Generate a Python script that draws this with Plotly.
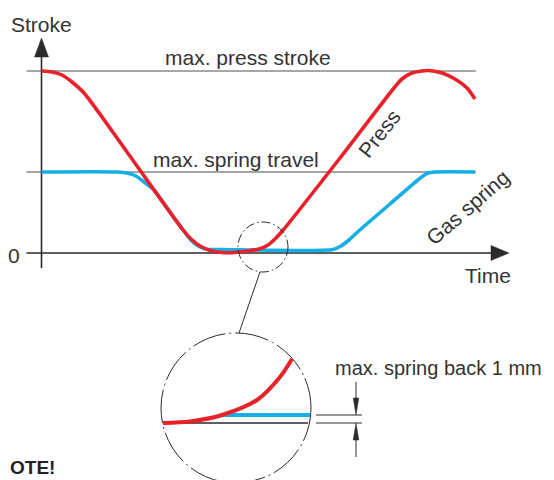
#%% Setup

import plotly.graph_objects as go

# Diagram units: x runs left->right, y runs top->bottom (same scale both ways).
# The page body has an 8 px margin, so the axis ranges start at 8 to keep the
# diagram units equal to window pixels.

#%% Main diagram: press and gas spring

press_x = [41.5, 52, 62, 72, 84, 127, 183, 191, 200, 210, 222, 235, 247, 259,
           268, 276, 284, 340, 394, 402, 412, 428, 442, 455, 467, 475]
press_y = [71, 72, 75, 82, 93, 152, 230, 239, 246, 250.5, 252.5, 252.5, 251,
           249, 245, 238, 229, 158, 88, 79, 73, 70.5, 73, 79, 88, 99]

spring_x = [41.5, 117, 127, 136, 144, 154, 170, 184, 191, 199, 209, 220, 333,
            341, 349, 357, 390, 421, 428, 436, 475]
spring_y = [172, 172, 173, 176, 182, 190, 212, 231, 240, 246.5, 249.5, 249.5,
            249.5, 246, 240, 232.5, 204, 177.5, 173, 172, 172]

# reference levels (y) and their horizontal extent
press_stroke_level = 71
spring_travel_level = 172
level_x = [26.5, 476]

# axes
stroke_axis_x = [41.5, 41.5]
stroke_axis_y = [268, 50]
time_axis_x = [26.5, 495]
time_axis_y = [253, 253]
stroke_head_x = [41.5, 34.5, 48.5, 41.5]
stroke_head_y = [38, 57, 57, 38]
time_head_x = [509, 491, 491, 509]
time_head_y = [253, 245.5, 260.5, 253]

#%% Magnified detail

detail_circle = (263, 247, 25)      # cx, cy, r
big_circle = (236, 408, 75)
leader_x = [260, 239]
leader_y = [272, 333]

zoom_press_x = [163, 190, 222, 257, 280, 292]
zoom_press_y = [423, 421.5, 415, 400, 377, 359]
zoom_spring_x = [222, 310]
zoom_spring_y = [415, 415]
zoom_base_x = [163, 308]
zoom_base_y = [423, 423]

# spring-back dimension
dim_ext_x = [316, 362]
dim_upper_y = 415
dim_lower_y = 423
dim_x = 356
dim_upper_line_y = [382, 400]
dim_lower_line_y = [436, 457]
dim_upper_head_x = [356, 353.2, 358.8, 356]
dim_upper_head_y = [415, 398, 398, 415]
dim_lower_head_x = [356, 353.2, 358.8, 356]
dim_lower_head_y = [423, 440, 440, 423]

#%% Colours

RED = "#e8212b"
BLUE = "#16aee6"
INK = "#2b2b2b"
TXT = "#333333"

fig = go.Figure()


def line(x, y, color, width, dash=None):
    fig.add_trace(go.Scatter(
        x=x, y=y, mode="lines", hoverinfo="skip", showlegend=False,
        line=dict(color=color, width=width, dash=dash),
    ))


def arrowhead(x, y):
    fig.add_trace(go.Scatter(
        x=x, y=y, mode="lines", fill="toself", fillcolor=INK,
        line=dict(color=INK, width=0.5), hoverinfo="skip", showlegend=False,
    ))


# reference levels
line(level_x, [press_stroke_level] * 2, "#8a8a8a", 1.6)
line(level_x, [spring_travel_level] * 2, "#4a4a4a", 1.2)

# axes
line(stroke_axis_x, stroke_axis_y, INK, 1.6)
line(time_axis_x, time_axis_y, INK, 1.6)
arrowhead(stroke_head_x, stroke_head_y)
arrowhead(time_head_x, time_head_y)

# curves (gas spring under press)
fig.add_trace(go.Scatter(
    x=spring_x, y=spring_y, mode="lines", hoverinfo="skip", showlegend=False,
    line=dict(color=BLUE, width=3.6, shape="spline", smoothing=0.7),
))
fig.add_trace(go.Scatter(
    x=press_x, y=press_y, mode="lines", hoverinfo="skip", showlegend=False,
    line=dict(color=RED, width=3.6, shape="spline", smoothing=0.7),
))

# magnified view
line(leader_x, leader_y, INK, 1)
line(zoom_base_x, zoom_base_y, INK, 1.3)
line(zoom_spring_x, zoom_spring_y, BLUE, 4)
fig.add_trace(go.Scatter(
    x=zoom_press_x, y=zoom_press_y, mode="lines", hoverinfo="skip",
    showlegend=False,
    line=dict(color=RED, width=4, shape="spline", smoothing=0.8),
))

# dimension for spring back
line(dim_ext_x, [dim_upper_y] * 2, INK, 1)
line(dim_ext_x, [dim_lower_y] * 2, INK, 1)
line([dim_x, dim_x], dim_upper_line_y, INK, 1)
line([dim_x, dim_x], dim_lower_line_y, INK, 1)
arrowhead(dim_upper_head_x, dim_upper_head_y)
arrowhead(dim_lower_head_x, dim_lower_head_y)

# dash-dot circles
for (cx, cy, r), dash in [(detail_circle, "9px,3px,1.5px,3px"),
                          (big_circle, "34px,4px,2px,4px")]:
    fig.add_shape(type="circle", xref="x", yref="y",
                  x0=cx - r, x1=cx + r, y0=cy - r, y1=cy + r,
                  line=dict(color=INK, width=1, dash=dash))

#%% Text

labels = [
    # text, x, y, anchor, angle, size
    ("Stroke", 41.5, 24, "center", 0, 21),
    ("0", 14, 255, "center", 0, 21),
    ("Time", 488, 275, "center", 0, 21),
    ("max. press stroke", 247.5, 57, "center", 0, 21),
    ("max. spring travel", 236, 159, "center", 0, 21),
    ("Press", 379, 133, "center", -52, 21),
    ("Gas spring", 467.5, 207.5, "center", -41, 21),
    ("max. spring back 1 mm", 333, 368, "left", 0, 20),
]
for text, x, y, anchor, angle, size in labels:
    fig.add_annotation(x=x, y=y, xref="x", yref="y", text=text,
                       showarrow=False, xanchor=anchor, yanchor="middle",
                       textangle=angle,
                       font=dict(family="Liberation Sans", size=size,
                                 color=TXT))

# the page crop only leaves the tail of the "NOTE!" heading
fig.add_annotation(x=8, y=467, xref="x", yref="y", text="<b>OTE!</b>",
                   showarrow=False, xanchor="left", yanchor="middle",
                   font=dict(family="Liberation Sans", size=19, color="#222"))

fig.update_layout(
    width=554, height=480,
    margin=dict(l=0, r=0, t=0, b=0),
    paper_bgcolor="white", plot_bgcolor="white",
    xaxis=dict(range=[8, 562], visible=False, fixedrange=True),
    yaxis=dict(range=[488, 8], visible=False, fixedrange=True),
    showlegend=False,
)

fig.write_html("out.html")
